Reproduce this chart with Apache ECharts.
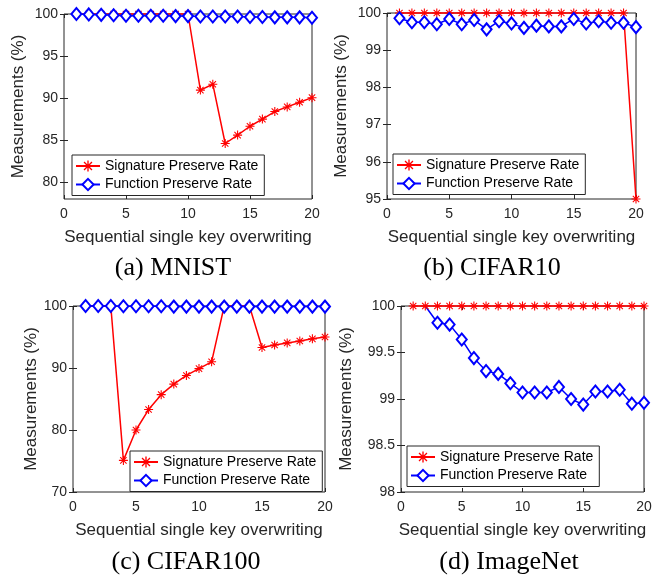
<!DOCTYPE html>
<html>
<head>
<meta charset="utf-8">
<script src="https://cdn.jsdelivr.net/npm/echarts@6/dist/echarts.min.js"></script>
<style>
	html, body { margin: 0; padding: 0; background: #fff; }
	#main { width: 661px; height: 579px; }
</style>
</head>
<body>
<div id="main"></div>
<script>
// x values: key index
var steps = [1, 2, 3, 4, 5, 6, 7, 8, 9, 10, 11, 12, 13, 14, 15, 16, 17, 18, 19, 20];

// (a) MNIST
var mnistSig = [100, 100, 100, 100, 100, 100, 100, 100, 100, 100, 90.95, 91.65, 84.6, 85.6, 86.65, 87.5, 88.4, 88.95, 89.5, 90.05];
var mnistFun = [100, 99.95, 99.9, 99.85, 99.8, 99.8, 99.8, 99.8, 99.75, 99.75, 99.7, 99.7, 99.7, 99.7, 99.65, 99.65, 99.6, 99.6, 99.6, 99.55];
// (b) CIFAR10
var c10Sig = [100, 100, 100, 100, 100, 100, 100, 100, 100, 100, 100, 100, 100, 100, 100, 100, 100, 100, 100, 95];
var c10Fun = [99.86, 99.75, 99.75, 99.7, 99.84, 99.7, 99.81, 99.56, 99.78, 99.72, 99.6, 99.66, 99.64, 99.64, 99.84, 99.72, 99.78, 99.74, 99.74, 99.62];
// (c) CIFAR100
var c100Sig = [100, 100, 100, 75.1, 80, 83.3, 85.7, 87.4, 88.8, 89.9, 91, 100, 100, 100, 93.3, 93.7, 94.05, 94.35, 94.7, 95];
var c100Fun = [100, 100, 100, 99.95, 99.95, 99.95, 99.95, 99.9, 99.9, 99.9, 99.9, 99.9, 99.9, 99.9, 99.9, 99.9, 99.9, 99.9, 99.9, 99.9];
// (d) ImageNet (first function point not shown in the figure)
var inetSig = [100, 100, 100, 100, 100, 100, 100, 100, 100, 100, 100, 100, 100, 100, 100, 100, 100, 100, 100, 100];
var inetFun = [null, 100, 99.82, 99.8, 99.64, 99.44, 99.3, 99.27, 99.17, 99.07, 99.07, 99.07, 99.13, 99.0, 98.94, 99.08, 99.08, 99.1, 98.95, 98.96];

// tick labels
var xTicks = [0, 5, 10, 15, 20];
var mnistTicks = [80, 85, 90, 95, 100];
var c10Ticks = [95, 96, 97, 98, 99, 100];
var c100Ticks = [70, 80, 90, 100];
var inetTicks = [98, 98.5, 99, 99.5, 100];

var sigName = 'Signature Preserve Rate';
var funName = 'Function Preserve Rate';
var captions = ['(a) MNIST', '(b) CIFAR10', '(c) CIFAR100', '(d) ImageNet'];

var txt = '#262626';
var sans = 'Liberation Sans';
var star = 'path://M-0.6,-5 L0.6,-5 L0.6,5 L-0.6,5 Z M-5,-0.6 L5,-0.6 L5,0.6 L-5,0.6 Z ' +
	'M-3.12,-3.96 L3.96,3.12 L3.12,3.96 L-3.96,-3.12 Z M-3.96,3.12 L3.12,-3.96 L3.96,-3.12 L-3.12,3.96 Z';

var panels = [
	{ sig: mnistSig, fun: mnistFun, ticks: mnistTicks, min: 78, max: 100,
		grid: { left: 64, top: 14, width: 248, height: 185 }, gapY: 37,
		legend: { left: 72, top: 155 }, cap: [173, 268], hideFirst: 0 },
	{ sig: c10Sig, fun: c10Fun, ticks: c10Ticks, min: 95, max: 100,
		grid: { left: 387, top: 13, width: 249, height: 186 }, gapY: 37,
		legend: { left: 393, top: 154 }, cap: [492, 268], hideFirst: 0 },
	{ sig: c100Sig, fun: c100Fun, ticks: c100Ticks, min: 70, max: 100,
		grid: { left: 73, top: 306, width: 252, height: 186 }, gapY: 33,
		legend: { left: 130, top: 451 }, cap: [186, 562], hideFirst: 0 },
	{ sig: inetSig, fun: inetFun, ticks: inetTicks, min: 98, max: 100,
		grid: { left: 401, top: 306, width: 243, height: 186 }, gapY: 46,
		legend: { left: 407, top: 446 }, cap: [509, 562], hideFirst: 2 }
];

// [x, y] points; the first `hide` points get no marker
function pairs(ys, hide) {
	var out = [];
	for (var i = 0; i < steps.length; i++) {
		if (i < hide) {
			out.push({ value : [steps[i], ys[i]], symbol : 'none' });
		} else {
			out.push([steps[i], ys[i]]);
		}
	}
	return out;
}

var option = {
	backgroundColor : '#fff',
	animation : false,
	grid : [],
	xAxis : [],
	yAxis : [],
	legend : [],
	series : [],
	graphic : []
};

for (var p = 0; p < panels.length; p++) {
	var pn = panels[p];
	var g = pn.grid;
	option.grid.push({
		left : g.left, top : g.top, width : g.width, height : g.height,
		show : true, borderColor : txt, borderWidth : 1, backgroundColor : '#fff'
	});
	// bottom and top x axes
	option.xAxis.push({
		type : 'value', gridIndex : p, min : 0, max : 20, interval : 5,
		position : 'bottom',
		name : 'Sequential single key overwriting', nameLocation : 'middle', nameGap : 30,
		nameTextStyle : { fontFamily : sans, fontSize : 17, color : txt },
		axisLine : { show : false },
		axisTick : { inside : true, length : 4, customValues : xTicks, lineStyle : { color : txt } },
		axisLabel : { fontFamily : sans, fontSize : 14, color : txt, margin : 8, customValues : xTicks },
		splitLine : { show : false }
	});
	option.xAxis.push({
		type : 'value', gridIndex : p, min : 0, max : 20, interval : 5,
		position : 'top',
		axisLine : { show : false },
		axisTick : { inside : true, length : 4, lineStyle : { color : txt } },
		axisLabel : { show : false },
		splitLine : { show : false }
	});
	// left and right y axes
	option.yAxis.push({
		type : 'value', gridIndex : p, min : pn.min, max : pn.max,
		position : 'left',
		name : 'Measurements (%)', nameLocation : 'middle', nameGap : pn.gapY,
		nameTextStyle : { fontFamily : sans, fontSize : 17, color : txt },
		axisLine : { show : false },
		axisTick : { inside : true, length : 4, customValues : pn.ticks, lineStyle : { color : txt } },
		axisLabel : { fontFamily : sans, fontSize : 14, color : txt, margin : 6, customValues : pn.ticks },
		splitLine : { show : false }
	});
	option.yAxis.push({
		type : 'value', gridIndex : p, min : pn.min, max : pn.max,
		position : 'right',
		axisLine : { show : false },
		axisTick : { inside : true, length : 4, customValues : pn.ticks, lineStyle : { color : txt } },
		axisLabel : { show : false },
		splitLine : { show : false }
	});
	option.series.push({
		name : sigName, type : 'line', xAxisIndex : 2 * p, yAxisIndex : 2 * p,
		data : pairs(pn.sig, 0), symbol : star, symbolSize : 9, clip : false,
		color : '#ff0000', z : 2,
		lineStyle : { color : '#ff0000', width : 1.5 },
		itemStyle : { color : '#ff0000', borderWidth : 0 }
	});
	option.series.push({
		name : funName, type : 'line', xAxisIndex : 2 * p, yAxisIndex : 2 * p,
		data : pairs(pn.fun, pn.hideFirst), symbol : 'emptyDiamond', symbolSize : [10, 12], clip : false,
		color : '#0000ff', z : pn.hideFirst ? 1 : 3,
		lineStyle : { color : '#0000ff', width : 1.5 },
		itemStyle : { color : '#0000ff', borderWidth : 1.5 }
	});
	option.legend.push({
		data : [sigName, funName], orient : 'vertical',
		left : pn.legend.left, top : pn.legend.top,
		padding : [4, 6, 4, 3], itemGap : 4.5, itemWidth : 24, itemHeight : 14,
		borderColor : txt, borderWidth : 1, backgroundColor : '#fff',
		textStyle : { fontFamily : sans, fontSize : 14, color : '#000', lineHeight : 14 }
	});
	option.graphic.push({
		type : 'text', x : pn.cap[0], y : pn.cap[1],
		style : {
			text : captions[p], textAlign : 'center', textVerticalAlign : 'middle',
			font : '26px "Liberation Serif"', fill : '#000'
		}
	});
}

var chart = echarts.init(document.getElementById('main'), null, { renderer : 'canvas' });
chart.setOption(option);
</script>
</body>
</html>
